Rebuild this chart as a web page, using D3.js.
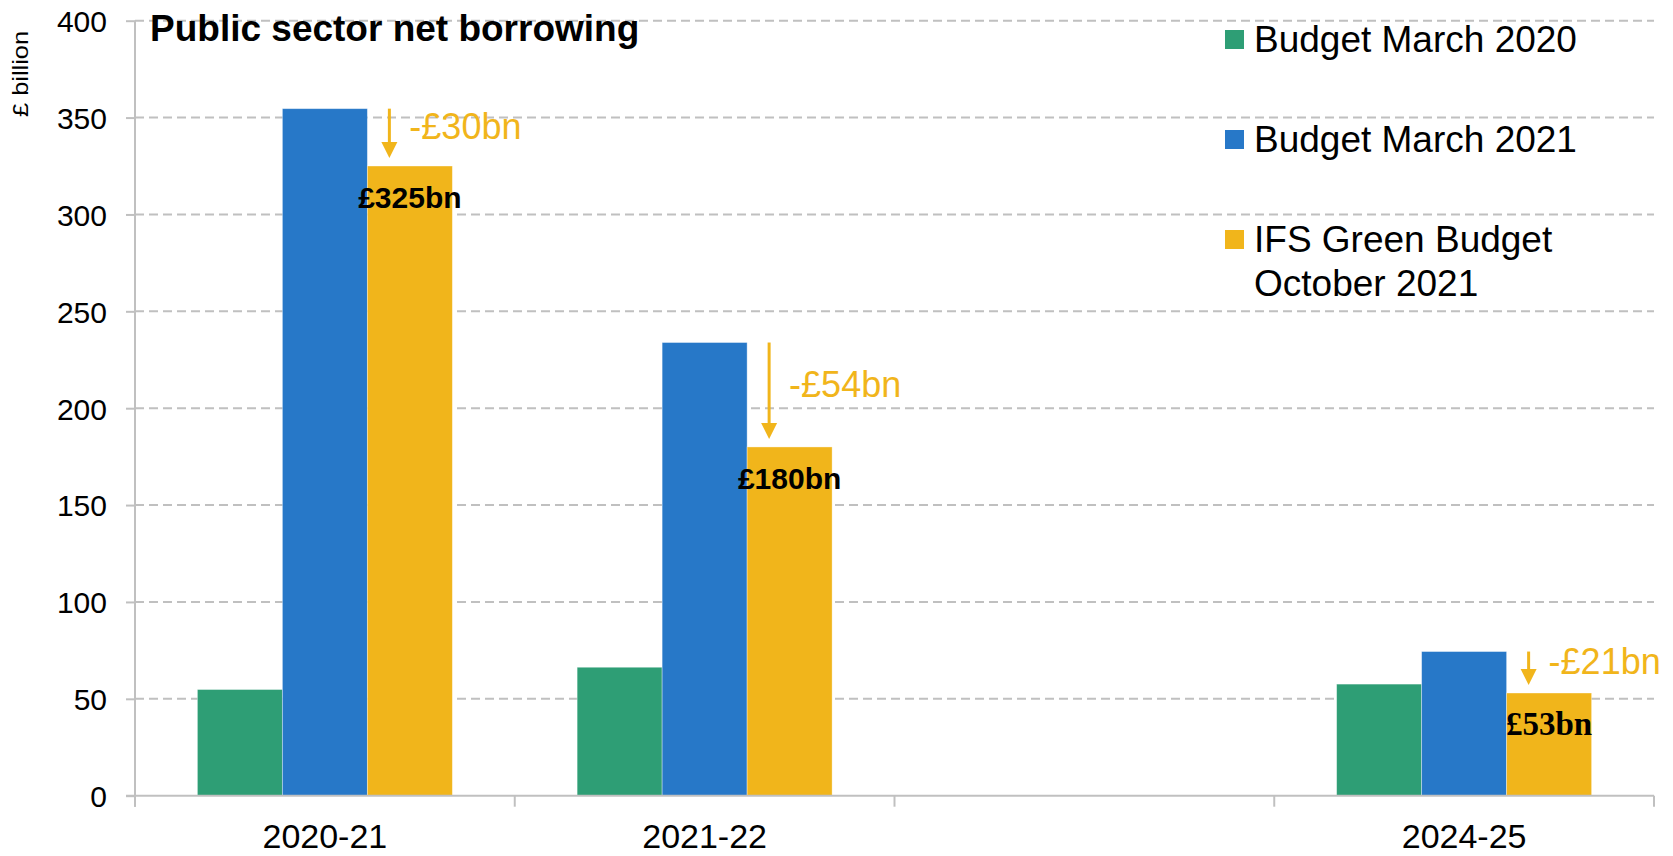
<!DOCTYPE html>
<html>
<head>
<meta charset="utf-8">
<script src="https://cdn.jsdelivr.net/npm/d3@7"></script>
<style>
  html, body { margin: 0; padding: 0; background: #fff; }
  svg { display: block; font-family: "Liberation Sans", Arial, sans-serif; }
</style>
</head>
<body>
<svg id="chart" width="1673" height="856"></svg>
<script>
// Public sector net borrowing, £ billion
const categories = ["2020-21", "2021-22", "", "2024-25"];
const seriesNames = ["Budget March 2020", "Budget March 2021", "IFS Green Budget October 2021"];
const budget2020 = [54.8, 66.3, null, 57.6];
const budget2021 = [354.6, 233.9, null, 74.4];
const greenBudget2021 = [325, 180, null, 53];
const yTicks = [0, 50, 100, 150, 200, 250, 300, 350, 400];
const legendLines = [["Budget March 2020"], ["Budget March 2021"], ["IFS Green Budget", "October 2021"]];

const colors = ["#2E9E75", "#2778C8", "#F1B51B"];
const accent = "#F1B51B";
const gridColor = "#C0C0C0";

const svg = d3.select("#chart");
const plotLeft = 135, plotRight = 1654, plotTop = 20.7, plotBottom = 795.7;

const y = d3.scaleLinear().domain([0, 400]).range([plotBottom, plotTop]);
const x0 = d3.scaleBand().domain(categories).range([plotLeft, plotRight]).padding(0);
const x1 = d3.scaleBand().domain(seriesNames).range([0, x0.bandwidth()])
  .paddingInner(0).paddingOuter(0.734);
const color = d3.scaleOrdinal().domain(seriesNames).range(colors);

// dashed horizontal gridlines
svg.append("g").selectAll("line")
  .data(yTicks.filter(d => d > 0))
  .join("line")
  .attr("x1", plotLeft).attr("x2", plotRight)
  .attr("y1", d => y(d)).attr("y2", d => y(d))
  .attr("stroke", gridColor).attr("stroke-width", 2)
  .attr("stroke-dasharray", "9,5");

// y axis
const yAxis = svg.append("g")
  .attr("transform", `translate(${plotLeft},0)`)
  .call(d3.axisLeft(y).tickValues(yTicks).tickSize(9).tickPadding(19).tickSizeOuter(0));
yAxis.select(".domain").attr("stroke", gridColor).attr("stroke-width", 2)
  .attr("d", `M0,${plotTop}V${plotBottom + 11}`);
yAxis.selectAll(".tick line").attr("stroke", gridColor).attr("stroke-width", 2);
yAxis.selectAll(".tick text")
  .attr("font-size", 30).attr("fill", "#000")
  .attr("font-family", "'Liberation Sans', Arial, sans-serif")
  .attr("dy", "0.36em");

// bars
const rows = categories.map((c, i) => ({
  cat: c,
  vals: [budget2020[i], budget2021[i], greenBudget2021[i]]
}));

const groups = svg.append("g").selectAll("g")
  .data(rows)
  .join("g")
  .attr("transform", d => `translate(${x0(d.cat)},0)`);

groups.selectAll("rect")
  .data(d => d.vals.map((v, k) => ({ key: seriesNames[k], v })).filter(e => e.v != null))
  .join("rect")
  .attr("x", e => x1(e.key))
  .attr("width", x1.bandwidth())
  .attr("y", e => y(e.v))
  .attr("height", e => y(0) - y(e.v))
  .attr("fill", e => color(e.key))
  .attr("stroke", "#ffffff").attr("stroke-opacity", 0.45).attr("stroke-width", 0.8);

// x axis line and category boundary ticks
svg.append("line")
  .attr("x1", plotLeft - 9).attr("x2", plotRight)
  .attr("y1", y(0)).attr("y2", y(0))
  .attr("stroke", gridColor).attr("stroke-width", 2);
const boundaries = categories.map(c => x0(c)).concat([x0(categories[categories.length - 1]) + x0.bandwidth()]);
svg.append("g").selectAll("line")
  .data(boundaries)
  .join("line")
  .attr("x1", d => d).attr("x2", d => d)
  .attr("y1", y(0)).attr("y2", y(0) + 11)
  .attr("stroke", gridColor).attr("stroke-width", 2);
svg.append("g").selectAll("text")
  .data(categories)
  .join("text")
  .attr("x", d => x0(d) + x0.bandwidth() / 2)
  .attr("y", 848)
  .attr("text-anchor", "middle")
  .attr("font-size", 34)
  .attr("fill", "#000")
  .text(d => d);

// value labels on the October 2021 bars
const ifsKey = seriesNames[2];
const labelled = rows.filter(r => r.vals[2] != null);
svg.append("g").selectAll("text")
  .data(labelled)
  .join("text")
  .attr("x", r => x0(r.cat) + x1(ifsKey) + x1.bandwidth() / 2)
  .attr("y", r => y(r.vals[2]) + 42)
  .attr("text-anchor", "middle")
  .attr("font-weight", "bold")
  .attr("font-size", r => r.cat === "2024-25" ? 33 : 30)
  .attr("font-family", r => r.cat === "2024-25"
    ? "'Liberation Serif', 'Times New Roman', serif"
    : "'Liberation Sans', Arial, sans-serif")
  .attr("fill", "#000")
  .text(r => `£${r.vals[2]}bn`);

// change arrows between March 2021 and October 2021
const ann = svg.append("g");
labelled.forEach(r => {
  const ax = x0(r.cat) + x1(ifsKey) + 22;
  const yStart = y(r.vals[1]);
  const yTip = y(r.vals[2]) - 8;
  const head = 16;
  ann.append("line")
    .attr("x1", ax).attr("x2", ax)
    .attr("y1", yStart).attr("y2", yTip - head + 2)
    .attr("stroke", accent).attr("stroke-width", 3);
  ann.append("path")
    .attr("d", `M${ax - 8},${yTip - head}L${ax + 8},${yTip - head}L${ax},${yTip}Z`)
    .attr("fill", accent);
  const change = Math.round(r.vals[2] - r.vals[1]);
  ann.append("text")
    .attr("x", ax + 20)
    .attr("y", (yStart + y(r.vals[2])) / 2 + 2)
    .attr("font-size", 36)
    .attr("fill", accent)
    .text(`-£${Math.abs(change)}bn`);
});

// title
svg.append("text")
  .attr("x", 150).attr("y", 40.5)
  .attr("font-size", 37).attr("font-weight", "bold").attr("fill", "#000")
  .text("Public sector net borrowing");

// y axis unit
svg.append("text")
  .attr("transform", "translate(28,74) rotate(-90)")
  .attr("text-anchor", "middle")
  .attr("font-size", 22)
  .attr("textLength", 86).attr("lengthAdjust", "spacingAndGlyphs")
  .attr("fill", "#000")
  .text("£ billion");

// legend
const legend = svg.append("g");
seriesNames.forEach((s, i) => {
  const base = 30 + i * 100;
  legend.append("rect")
    .attr("x", 1225).attr("y", base)
    .attr("width", 19).attr("height", 19)
    .attr("fill", color(s));
  legendLines[i].forEach((line, j) => {
    legend.append("text")
      .attr("x", 1254).attr("y", base + 22.3 + j * 43.4)
      .attr("font-size", 37).attr("fill", "#000")
      .text(line);
  });
});
</script>
</body>
</html>
